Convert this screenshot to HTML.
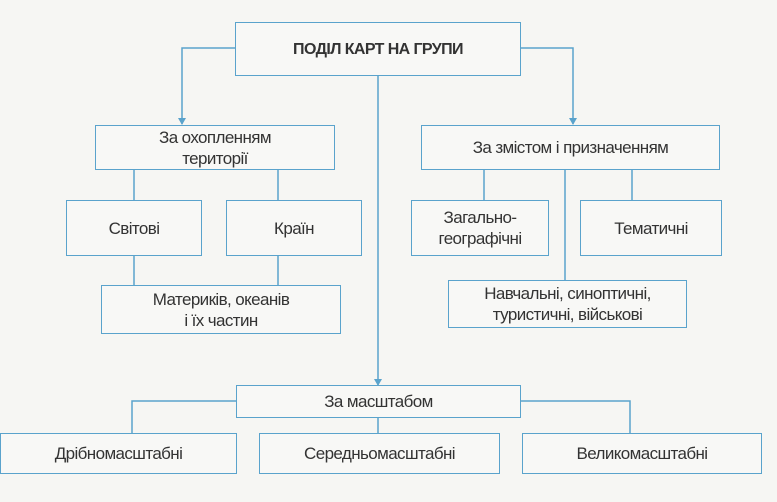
<!DOCTYPE html>
<html><head><meta charset="utf-8"><style>
body{margin:0;width:777px;height:502px;background:#f6f6f3;overflow:hidden;position:relative;font-family:"Liberation Sans",sans-serif;color:#333}
.b{position:absolute;border:1.5px solid #5aa3cc;box-sizing:border-box;display:flex;align-items:center;justify-content:center;text-align:center;font-size:17px;line-height:21px;letter-spacing:-0.6px;background:#f8f8f6}
svg{position:absolute;left:0;top:0}
</style></head><body>
<svg width="777" height="502" stroke="#5aa3cc" stroke-width="1.5" fill="none">
<polyline points="235,48 182,48 182,124"/>
<polyline points="521,48 573,48 573,124"/>
<path d="M178,118 L182,125 L186,118 Z M569,118 L573,125 L577,118 Z" fill="#5aa3cc" stroke="none"/>
<line x1="378" y1="76" x2="378" y2="385"/>
<line x1="134" y1="170" x2="134" y2="200"/><line x1="278" y1="170" x2="278" y2="200"/>
<line x1="134" y1="256" x2="134" y2="285"/><line x1="278" y1="256" x2="278" y2="285"/>
<line x1="484" y1="170" x2="484" y2="200"/><line x1="632" y1="170" x2="632" y2="200"/>
<line x1="565" y1="170" x2="565" y2="280"/>
<polyline points="236,401 132,401 132,433"/>
<polyline points="521,401 630,401 630,433"/>
<line x1="378" y1="418" x2="378" y2="433"/>
<path d="M374,379 L378,386 L382,379 Z" fill="#5aa3cc" stroke="none"/>
</svg>
<div class="b" style="left:235px;top:22px;width:286px;height:54px;font-weight:bold;font-size:16px">ПОДІЛ КАРТ НА ГРУПИ</div>
<div class="b" style="left:95px;top:125px;width:240px;height:45px">За охопленням<br>території</div>
<div class="b" style="left:421px;top:125px;width:299px;height:45px">За змістом і призначенням</div>
<div class="b" style="left:66px;top:200px;width:136px;height:56px">Світові</div>
<div class="b" style="left:226px;top:200px;width:136px;height:56px">Країн</div>
<div class="b" style="left:411px;top:200px;width:138px;height:56px">Загально-<br>географічні</div>
<div class="b" style="left:580px;top:200px;width:142px;height:56px">Тематичні</div>
<div class="b" style="left:101px;top:285px;width:240px;height:49px">Материків, океанів<br>і їх частин</div>
<div class="b" style="left:448px;top:280px;width:239px;height:48px">Навчальні, синоптичні,<br>туристичні, військові</div>
<div class="b" style="left:236px;top:385px;width:285px;height:33px">За масштабом</div>
<div class="b" style="left:0px;top:433px;width:237px;height:41px">Дрібномасштабні</div>
<div class="b" style="left:259px;top:433px;width:241px;height:41px">Середньомасштабні</div>
<div class="b" style="left:522px;top:433px;width:240px;height:41px">Великомасштабні</div>
</body></html>
